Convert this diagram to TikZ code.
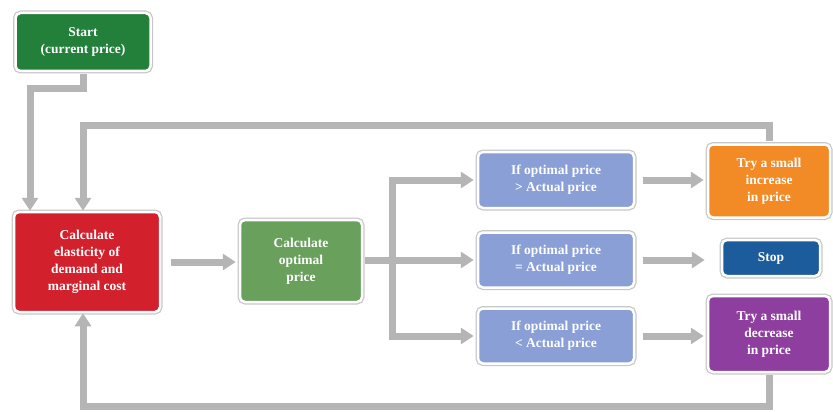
\documentclass[tikz,border=0pt]{standalone}
\usepackage{fontspec}
\setmainfont{Liberation Serif}
\usetikzlibrary{arrows.meta,calc,positioning}
\definecolor{startgreen}{HTML}{22803B}
\definecolor{calcred}{HTML}{D3202D}
\definecolor{optgreen}{HTML}{69A05C}
\definecolor{condblue}{HTML}{8A9FD6}
\definecolor{uporange}{HTML}{F28A26}
\definecolor{stopblue}{HTML}{1C5C9C}
\definecolor{downpurple}{HTML}{8E3E9E}
\definecolor{flowgray}{HTML}{B5B5B5}
\tikzset{>={Triangle[length=13pt,width=16pt]},
  box/.style={rounded corners=5pt,draw=white,line width=2.5pt,text=white,align=center,
    font=\bfseries\fontsize{13.5}{17}\selectfont,inner sep=0pt,
    preaction={draw=black!22,line width=5pt}},
  flow/.style={draw=flowgray,line width=7pt},
  every node/.style={font=\small}}

\begin{document}
\begin{tikzpicture}[x=1pt,y=-1pt]
\useasboundingbox(0,0)rectangle(833,412);
% boxes
\node[box,fill=startgreen,minimum width=135pt,minimum height=58pt](start)at(83,42){Start\\(current price)};
\node[box,fill=calcred,minimum width=146pt,minimum height=100pt](elast)at(87,262){Calculate\\elasticity of\\demand and\\marginal cost};
\node[box,fill=optgreen,minimum width=122pt,minimum height=82pt](optimal)at(301,261){Calculate\\optimal\\price};
\node[box,fill=condblue,minimum width=156pt,minimum height=56pt](above)at(556,180){If optimal price\\> Actual price};
\node[box,fill=condblue,minimum width=156pt,minimum height=55pt](equal)at(556,260){If optimal price\\= Actual price};
\node[box,fill=condblue,minimum width=156pt,minimum height=55pt](below)at(556,336){If optimal price\\< Actual price};
\node[box,fill=uporange,minimum width=122pt,minimum height=73pt](raise)at(769,181){Try a small\\increase\\in price};
\node[box,fill=stopblue,minimum width=98pt,minimum height=36pt](stop)at(771,258){Stop};
\node[box,fill=downpurple,minimum width=122pt,minimum height=76pt](lower)at(769,334){Try a small\\decrease\\in price};
% connectors
\draw[flow,->,shorten <=2pt](start.south)--++(0,16)-|([xshift=-57pt]elast.north);
\draw[flow,->,shorten <=2pt](raise.north)--++(0,-18)-|([xshift=-4pt]elast.north);
\draw[flow,->,shorten <=2pt](lower.south)--++(0,33)-|([xshift=-4pt]elast.south);
\draw[flow,->,shorten <=10pt,shorten >=3pt](elast.east)--(optimal.west|-elast.east);
\coordinate(fork)at(392,260);
\draw[flow,shorten <=2pt](optimal.east|-fork)--(fork);
\draw[flow,line cap=rect](fork|-above)--(fork|-below);
\draw[flow,->,shorten >=3pt](fork|-above)--(above.west);
\draw[flow,->,shorten >=3pt](fork)--(equal.west);
\draw[flow,->,shorten >=3pt](fork|-below)--(below.west);
\draw[flow,->,shorten <=8pt,shorten >=3pt](above.east)--(raise.west|-above.east);
\draw[flow,->,shorten <=8pt,shorten >=16pt](equal.east)--(stop.west|-equal.east);
\draw[flow,->,shorten <=8pt,shorten >=3pt](below.east)--(lower.west|-below.east);
\end{tikzpicture}
\end{document}
